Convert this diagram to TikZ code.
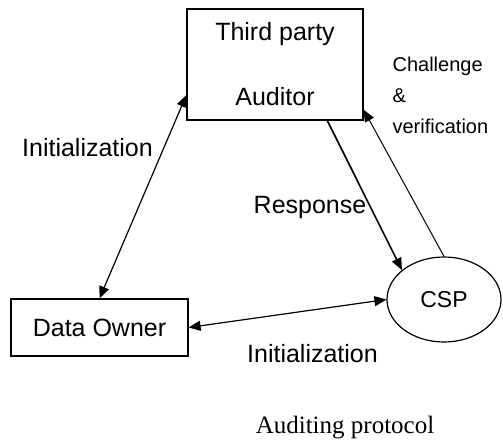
\documentclass[tikz,border=0pt]{standalone}
\usepackage{fontspec}
\setmainfont{Liberation Serif}
\newfontfamily\diagfont{Liberation Sans}
\usetikzlibrary{arrows.meta,shapes.geometric}

\tikzset{every picture/.style={line width=1.2pt}}
\tikzset{
  party/.style={draw, rectangle, font=\diagfont\fontsize{25}{30}\selectfont, align=center},
  tag/.style={font=\diagfont\fontsize{25}{30}\selectfont, anchor=base},
  flow/.style={-{Triangle[length=12pt,width=10pt]}},
  dflow/.style={{Triangle[length=12pt,width=10pt]}-{Triangle[length=12pt,width=10pt]}}
}

\begin{document}
\begin{tikzpicture}[x=1pt,y=1pt,yscale=-1]
	\useasboundingbox (0,0) rectangle (503,439);

	%Shape: Rectangle [Third party Auditor]
	\node[party, minimum width=176pt, minimum height=111pt] (tpa) at (275,64.5) {Third party\\[35pt]Auditor};
	%Shape: Rectangle [Data Owner]
	\node[party, minimum width=177pt, minimum height=57pt] (owner) at (99.5,327.5) {Data Owner};
	%Shape: Ellipse [CSP]
	\node[draw, ellipse, minimum width=114pt, minimum height=85pt, inner sep=0pt, font=\diagfont\fontsize{23}{28}\selectfont] (csp) at (444,299.5) {CSP};

	%Straight Lines
	\draw[dflow] (owner.north) -- (tpa.199);
	%Straight Lines
	\draw[flow, line width=1.6pt] (tpa.-47) -- (csp.145);
	%Straight Lines
	\draw[flow, line width=1pt] (csp.north) -- (tpa.-27);
	%Straight Lines
	\draw[dflow] (owner.east) -- (csp.west);

	% Text Node
	\node[tag] (initleft) at (87.5,156) {Initialization};
	% Text Node
	\node[tag] (resp) at (310,213) {Response};
	% Text Node
	\node[tag] (initbottom) at (312.5,362) {Initialization};
	% Text Node
	\node[font=\diagfont\fontsize{20}{31}\selectfont, align=left, anchor=north west, inner sep=0pt] (chal) at (392,56.5) {Challenge\\\&\\verification};
	% Text Node
	\node[font=\fontsize{25}{30}\selectfont, anchor=base] (caption) at (345,433) {Auditing protocol};

\end{tikzpicture}
\end{document}
